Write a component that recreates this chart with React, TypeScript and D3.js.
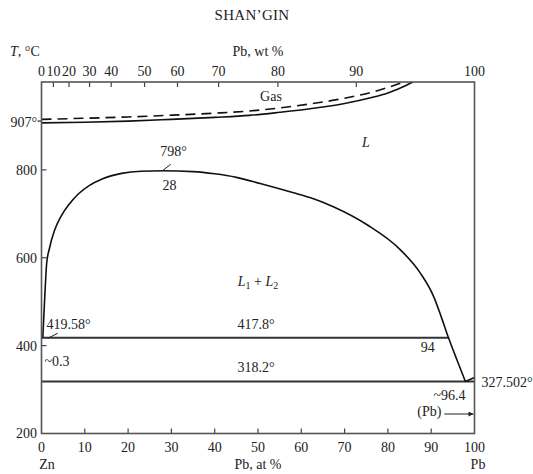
import React from "react";
import * as d3 from "d3";

const W = 533;
const H = 474;

// Axes
const tempTicks = [200, 400, 600, 800];
const atTicks = [0, 10, 20, 30, 40, 50, 60, 70, 80, 90, 100];
const wtTickLabels = ["0", "10", "20", "30", "40", "50", "60", "70", "80", "90", "100"];
// positions of the wt % ticks on the at % scale
const wtTickAtPos = [0, 2.75, 6.35, 11.1, 16.1, 23.8, 31.4, 40.9, 54.6, 72.7, 100];

// Boundary curves: [at % Pb, T °C]
const gasSolid: [number, number][] = [
  [0, 907], [10, 908.5], [20, 911], [30, 915], [40, 919.5], [48, 924], [55, 931], [62, 939],
  [70, 951], [76, 964], [80, 975], [83, 987], [85.8, 1000],
];
const gasDashed: [number, number][] = [
  [0, 915], [10, 917.5], [20, 920.5], [30, 924.5], [40, 929], [48, 934], [55, 941], [62, 950],
  [70, 963], [76, 976], [80, 987.5], [83.6, 1000],
];
const miscibility: [number, number][] = [
  [0.3, 417.8], [0.7, 500], [1.2, 588], [1.8, 620], [3.0, 662], [4.5, 694], [6.4, 722], [8.5, 745],
  [11, 764], [14, 779], [18.5, 792], [23, 797], [28, 798], [35, 796], [40, 791], [45, 783],
  [50.5, 769], [58, 748.5], [62, 737], [67.4, 716], [75.2, 675], [82.9, 618], [87.5, 565],
  [90.6, 511], [92.3, 466], [94, 417.8], [96, 366], [97.9, 318.2],
];
const pbLiquidus: [number, number][] = [[97.9, 318.2], [100, 327.502]];

const monotectic = { t: 417.8, x0: 0, x1: 94 };
const eutectic = { t: 318.2, x0: 0, x1: 100 };
const meltZn = 419.58;
const critical = { x: 28, t: 798 };

const x = d3.scaleLinear().domain([0, 100]).range([41.5, 474.5]);
const y = d3.scaleLinear().domain([200, 1000]).range([433.5, 82]);

const line = d3
  .line<[number, number]>()
  .x((d) => x(d[0]))
  .y((d) => y(d[1]))
  .curve(d3.curveMonotoneX);
const straight = d3
  .line<[number, number]>()
  .x((d) => x(d[0]))
  .y((d) => y(d[1]));

const FONT = "'Liberation Serif', 'Times New Roman', serif";
const TXT = "#222";

export default function App() {
  const fs = 14;
  const T = (props: any) => (
    <text fontFamily={FONT} fontSize={fs} fill={TXT} dy="0.35em" {...props} />
  );
  return (
    <svg width={W} height={H} style={{ position: "absolute", left: 0, top: 0, background: "#fff" }}>
      <defs>
        <clipPath id="plot">
          <rect x={x(0)} y={y(1000)} width={x(100) - x(0)} height={y(200) - y(1000)} />
        </clipPath>
        <marker id="arr" viewBox="0 0 10 10" refX="10" refY="5" markerWidth="7" markerHeight="5" orient="auto">
          <path d="M0,0 L10,5 L0,10 z" fill="#222" />
        </marker>
      </defs>
      <rect x={0} y={0} width={W} height={H} fill="#fff" />

      {/* Title and axis titles */}
      <T x={252} y={15} textAnchor="middle" fontSize={15} letterSpacing={0.3}>SHAN’GIN</T>
      <T x={10} y={51}>
        <tspan fontStyle="italic">T</tspan>, °C
      </T>
      <T x={258} y={51} textAnchor="middle">Pb, wt %</T>

      {/* top wt% ticks */}
      {wtTickAtPos.map((p, i) => (
        <g key={"wt" + i}>
          {i > 0 && i < wtTickAtPos.length - 1 && (
            <line x1={x(p)} x2={x(p)} y1={y(1000)} y2={y(1000) + 5} stroke="#444" strokeWidth={1.2} />
          )}
          <T x={x(p)} y={71} textAnchor="middle">{wtTickLabels[i]}</T>
        </g>
      ))}

      {/* bottom at% ticks */}
      {atTicks.map((v) => (
        <g key={"at" + v}>
          {v > 0 && v < 100 && (
            <line x1={x(v)} x2={x(v)} y1={y(200)} y2={y(200) - 5} stroke="#444" strokeWidth={1.2} />
          )}
          <T x={x(v)} y={447} textAnchor="middle">{v}</T>
        </g>
      ))}
      <T x={47} y={464} textAnchor="middle">Zn</T>
      <T x={258} y={464} textAnchor="middle">Pb, at %</T>
      <T x={478} y={464} textAnchor="middle">Pb</T>

      {/* left temperature ticks */}
      {tempTicks.map((v) => (
        <g key={"t" + v}>
          {v > 200 && (
            <line x1={x(0)} x2={x(0) + 5} y1={y(v)} y2={y(v)} stroke="#444" strokeWidth={1.2} />
          )}
          <T x={37} y={y(v)} textAnchor="end">{v}</T>
        </g>
      ))}
      <line x1={x(0) - 4} x2={x(0)} y1={y(911)} y2={y(911)} stroke="#333" strokeWidth={1.3} />
      <T x={37} y={y(909)} textAnchor="end">907°</T>

      {/* isotherms */}
      <path d={straight([[monotectic.x0, monotectic.t], [monotectic.x1, monotectic.t]]) ?? ""} stroke="#333" strokeWidth={2} fill="none" />
      <path d={straight([[eutectic.x0, eutectic.t], [eutectic.x1, eutectic.t]]) ?? ""} stroke="#333" strokeWidth={2} fill="none" />

      {/* curves */}
      <g clipPath="url(#plot)">
        <path d={line(gasSolid) ?? ""} stroke="#111" strokeWidth={1.6} fill="none" />
        <path d={line(gasDashed) ?? ""} stroke="#111" strokeWidth={1.6} fill="none" strokeDasharray="10 6" />
        <path d={line(miscibility) ?? ""} stroke="#111" strokeWidth={1.6} fill="none" />
        <path d={straight(pbLiquidus) ?? ""} stroke="#111" strokeWidth={1.6} fill="none" />
      </g>

      {/* frame */}
      <rect x={x(0)} y={y(1000)} width={x(100) - x(0)} height={y(200) - y(1000)} fill="none" stroke="#555" strokeWidth={1.6} />

      {/* annotations */}
      <T x={271} y={96} textAnchor="middle">Gas</T>
      <T x={366} y={142} textAnchor="middle" fontStyle="italic">L</T>
      <line x1={x(critical.x) - 1} y1={y(critical.t) + 0.5} x2={x(critical.x) + 8} y2={y(critical.t) - 6.5} stroke="#222" strokeWidth={1} />
      <T x={173.5} y={151} textAnchor="middle">{critical.t}°</T>
      <T x={169.5} y={185} textAnchor="middle">{critical.x}</T>

      <T x={258} y={281} textAnchor="middle" fontStyle="italic">
        L<tspan fontSize={10} dy="3" fontStyle="normal">1</tspan>
        <tspan dy="-3" fontStyle="normal"> + </tspan>L
        <tspan fontSize={10} dy="3" fontStyle="normal">2</tspan>
      </T>

      <line x1={47.7} y1={338.3} x2={57.7} y2={333.3} stroke="#222" strokeWidth={1} />
      <T x={46.5} y={324}>{meltZn}°</T>
      <T x={256} y={324} textAnchor="middle">{monotectic.t}°</T>
      <T x={44.5} y={361}>~0.3</T>
      <T x={256} y={367} textAnchor="middle">{eutectic.t}°</T>
      <T x={427.7} y={347} textAnchor="middle">{monotectic.x1}</T>
      <T x={481.5} y={382}>327.502°</T>
      <T x={449.5} y={395} textAnchor="middle">~96.4</T>
      <T x={429.3} y={411.5} textAnchor="middle">(Pb)</T>
      <line x1={444.3} y1={414} x2={473.5} y2={414} stroke="#222" strokeWidth={1} markerEnd="url(#arr)" />
    </svg>
  );
}
